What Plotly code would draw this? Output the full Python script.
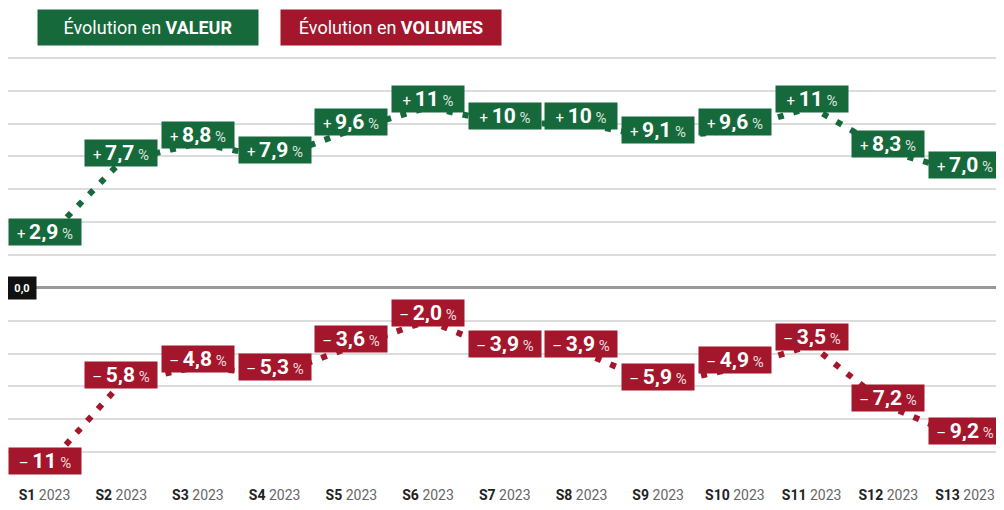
import plotly.graph_objects as go

# data
semaines = ["S1", "S2", "S3", "S4", "S5", "S6", "S7", "S8", "S9", "S10", "S11", "S12", "S13"]
annee = "2023"
valeur = [2.9, 7.7, 8.8, 7.9, 9.6, 11, 10, 10, 9.1, 9.6, 11, 8.3, 7.0]
volumes = [-11, -5.8, -4.8, -5.3, -3.6, -2.0, -3.9, -3.9, -5.9, -4.9, -3.5, -7.2, -9.2]

VERT = "#15693a"
ROUGE = "#a3162b"
FONT = "Liberation Sans Narrow, Roboto, Arial, sans-serif"


def fmt(v):
    signe = "+" if v >= 0 else "–"
    a = abs(v)
    num = str(int(round(a))) if a >= 10 else ("%.1f" % a).replace(".", ",")
    return ("<span style='font-size:15px'>%s </span><b>%s</b>"
            "<span style='font-size:15px;color:rgba(255,255,255,0.85)'> %%</span>") % (signe, num)


fig = go.Figure()

for serie, col in [(valeur, VERT), (volumes, ROUGE)]:
    fig.add_trace(go.Scatter(
        x=semaines, y=serie, mode="lines",
        line=dict(color=col, width=6, dash="6px,10px"),
        hoverinfo="skip", showlegend=False,
    ))
    for s, v in zip(semaines, serie):
        fig.add_annotation(
            x=s, y=v, text=fmt(v), showarrow=False,
            font=dict(family=FONT, size=21, color="white"),
            bgcolor=col, width=66, height=20, borderpad=3,
            yshift=8,
        )

# legend boxes
for x0, txt, col in [(0.029, "Évolution en <b>VALEUR</b>", VERT),
                     (0.274, "Évolution en <b>VOLUMES</b>", ROUGE)]:
    fig.add_annotation(
        xref="paper", yref="paper", x=x0, y=0.995, xanchor="left", yanchor="middle",
        text=txt, showarrow=False,
        font=dict(family=FONT, size=18, color="white"),
        bgcolor=col, width=214, height=29, borderpad=3,
    )

# zero label
fig.add_annotation(
    xref="paper", yref="y", x=-0.001, y=0, xanchor="left", yanchor="middle",
    text="<b>0,0</b>", showarrow=False,
    font=dict(family=FONT, size=11, color="white"),
    bgcolor="#111111", width=24, height=18, borderpad=2,
)

# la page ajoute une marge de 8 px : on la compense ici
fig.update_layout(
    width=996, height=502,
    margin=dict(l=0, r=4, t=17, b=25),
    paper_bgcolor="white", plot_bgcolor="white",
    font=dict(family=FONT),
    xaxis=dict(
        range=[-0.476, 12.456], showgrid=False, zeroline=False, showline=False,
        tickmode="array", tickvals=semaines,
        ticktext=["<b>%s</b> <span style='color:#666'>%s</span>" % (s, annee) for s in semaines],
        tickfont=dict(family=FONT, size=14, color="#222"), ticks="",
    ),
    yaxis=dict(
        range=[-12, 16], dtick=2, showticklabels=False,
        showgrid=True, gridcolor="#dcdcdc", gridwidth=1.5,
        zeroline=True, zerolinecolor="#999999", zerolinewidth=2.5,
    ),
)

fig.write_html("out.html")
